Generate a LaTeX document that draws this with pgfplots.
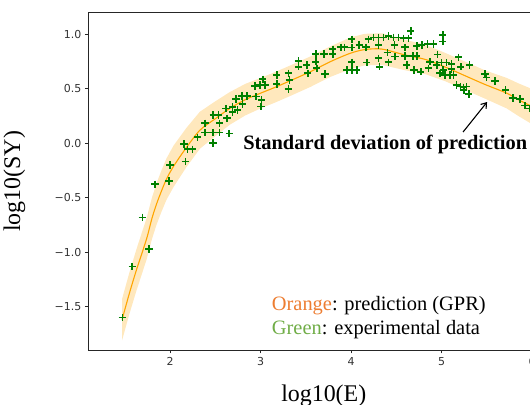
\documentclass[border=0pt]{standalone}
\usepackage{pgfplots}
\pgfplotsset{compat=1.18}
\usepackage{pgfplotstable}
\usepgfplotslibrary{fillbetween}
\usetikzlibrary{arrows.meta}
\usepackage{fontspec}
\setmainfont{Liberation Serif}
\newfontfamily\dejavu{DejaVu Sans}
\definecolor{mplorange}{RGB}{255,165,0}
\definecolor{mplgreen}{RGB}{0,128,0}
\definecolor{pptorange}{RGB}{237,125,49}
\definecolor{pptgreen}{RGB}{112,173,71}

\pgfplotstableread{
x y lo hi
1.47 -1.62 -1.81 -1.43
1.55 -1.38 -1.57 -1.19
1.63 -1.16 -1.35 -0.97
1.74 -0.88 -1.07 -0.69
1.80 -0.69 -0.88 -0.50
1.85 -0.56 -0.75 -0.37
1.90 -0.45 -0.64 -0.26
1.96 -0.33 -0.52 -0.14
2.04 -0.21 -0.40 -0.02
2.18 -0.04 -0.22 0.14
2.33 0.12 -0.05 0.29
2.50 0.225 0.065 0.385
2.66 0.32 0.17 0.47
2.83 0.40 0.255 0.545
3.00 0.46 0.32 0.60
3.15 0.51 0.37 0.65
3.33 0.575 0.435 0.715
3.55 0.657 0.517 0.797
3.77 0.749 0.609 0.889
3.99 0.826 0.681 0.971
4.15 0.86 0.715 1.005
4.34 0.865 0.72 1.01
4.60 0.81 0.67 0.95
4.82 0.77 0.635 0.905
5.04 0.70 0.57 0.83
5.26 0.62 0.49 0.75
5.48 0.54 0.41 0.67
5.72 0.46 0.32 0.60
5.85 0.40 0.25 0.55
5.98 0.345 0.185 0.505
6.15 0.27 0.095 0.445
6.30 0.20 0.01 0.39
}\gpr

\pgfplotstableread{
x y
1.473 -1.601
1.583 -1.133
1.768 -0.971
1.694 -0.680
1.834 -0.376
1.989 -0.346
2.000 -0.199
2.171 -0.167
2.155 -0.006
2.193 -0.055
2.249 -0.055
2.304 0.055
2.387 0.099
2.387 0.184
2.475 0.003
2.475 0.099
2.545 0.099
2.545 0.184
2.654 0.090
2.478 0.260
2.536 0.260
2.619 0.320
2.630 0.230
2.691 0.287
2.691 0.333
2.744 0.306
2.729 0.407
2.796 0.434
2.851 0.434
2.801 0.361
2.939 0.526
2.994 0.535
2.950 0.428
3.011 0.398
3.006 0.336
3.024 0.588
3.050 0.535
3.179 0.627
3.179 0.545
3.307 0.643
3.318 0.581
3.307 0.499
3.418 0.758
3.418 0.703
3.511 0.719
3.522 0.643
3.610 0.820
3.610 0.749
3.621 0.689
3.702 0.820
3.713 0.636
3.798 0.863
3.798 0.820
3.886 0.882
3.926 0.882
4.008 0.955
4.008 0.880
4.008 0.744
3.953 0.673
4.008 0.673
4.063 0.673
4.091 0.903
4.166 0.882
4.191 0.955
4.246 0.973
4.302 0.973
4.357 0.973
4.412 0.985
4.467 0.973
4.523 0.973
4.578 0.964
4.633 0.964
4.660 1.031
4.302 0.903
4.478 0.903
4.597 0.882
4.726 0.893
4.781 0.903
4.843 0.912
4.909 0.912
5.013 0.994
5.013 0.933
4.174 0.740
4.302 0.781
4.313 0.703
4.401 0.832
4.412 0.744
4.486 0.795
4.597 0.802
4.616 0.719
4.682 0.802
4.726 0.802
4.696 0.673
4.770 0.657
4.873 0.749
4.854 0.689
4.954 0.817
4.947 0.719
4.983 0.643
5.039 0.627
5.094 0.627
5.130 0.627
5.000 0.740
5.055 0.740
5.110 0.728
5.110 0.680
5.019 0.673
5.186 0.790
5.212 0.703
5.307 0.719
5.166 0.535
5.210 0.520
5.243 0.514
5.276 0.520
5.246 0.489
5.302 0.453
5.481 0.636
5.497 0.604
5.591 0.572
5.707 0.489
5.790 0.416
5.867 0.407
5.923 0.347
5.970 0.321
}\expdata

\begin{document}
\begin{tikzpicture}
\begin{axis}[
  at={(88.3bp,55bp)}, anchor=south west,
  scale only axis, width=470.9bp, height=337.3bp,
  xmin=1.097, xmax=6.3, ymin=-1.898, ymax=1.199,
  axis line style={black!85, line width=0.8bp},
  tick style={black!85, line width=0.8bp},
  tick align=outside, major tick length=3.5bp,
  xtick pos=bottom, ytick pos=left,
  xtick={2,3,4,5,6}, xticklabels={2,3,4,5,6},
  ytick={-1.5,-1,-0.5,0,0.5,1},
  yticklabels={−1.5,−1.0,−0.5,0.0,0.5,1.0},
  tick label style={font=\dejavu\fontsize{11}{13}\selectfont, text=black!80},
  xlabel={log10(E)}, ylabel={log10(SY)},
  label style={font=\fontsize{24}{28}\selectfont},
  xlabel style={at={(axis description cs:0.5,-0.1524)}, anchor=base},
  ylabel style={at={(axis description cs:-0.145,0.5)}, anchor=base},
  clip=true,
]
\addplot[name path=up, draw=none, forget plot] table[x=x, y=hi] {\gpr};
\addplot[name path=dn, draw=none, forget plot] table[x=x, y=lo] {\gpr};
\addplot[fill=mplorange, fill opacity=0.26, draw=none] fill between[of=up and dn];
\addplot[mplorange, line width=1.1bp, smooth] table[x=x, y=y] {\gpr};
\addplot[only marks, mark=+, mark size=3.6bp, mplgreen, mark options={line width=1.6bp}] table[x=x, y=y] {\expdata};
\node[anchor=base west, font=\bfseries\fontsize{20.5}{24}\selectfont, inner sep=0pt] at (axis cs:2.807,-0.057) {Standard deviation of prediction};
\draw[-{Straight Barb[length=5bp,width=7bp]}, line width=1.1bp] (axis cs:5.238,0.104) -- (axis cs:5.503,0.379);
\end{axis}
\node[anchor=base west, font=\fontsize{20.5}{24}\selectfont, inner sep=0pt] at (271.7bp,94bp) {\textcolor{pptorange}{Orange}: prediction (GPR)};
\node[anchor=base west, font=\fontsize{20.5}{24}\selectfont, inner sep=0pt] at (271.7bp,70bp) {\textcolor{pptgreen}{Green}: experimental data};
\pgfresetboundingbox
\path[use as bounding box] (0,0) rectangle (530bp,405bp);
\end{tikzpicture}
\end{document}
